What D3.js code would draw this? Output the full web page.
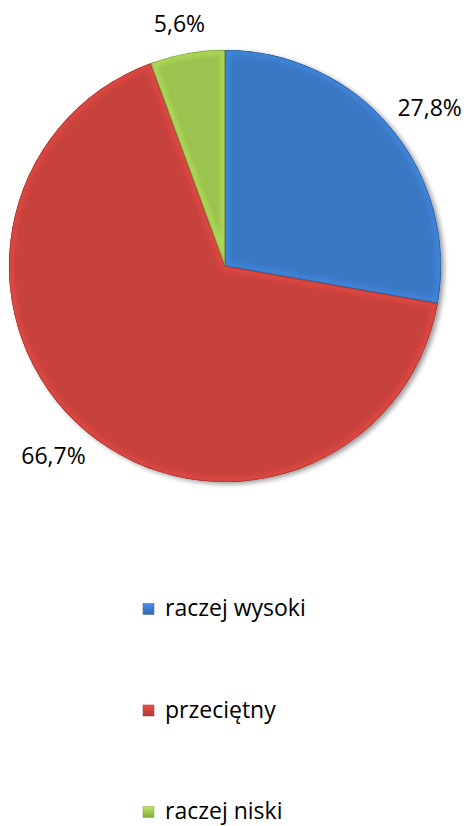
<!DOCTYPE html>
<html><head><meta charset="utf-8">
<script src="https://cdn.jsdelivr.net/npm/d3@7"></script>
<style>body{margin:0;background:#fff}svg{display:block}</style>
</head><body>
<svg id="c" width="474" height="826"></svg>
<script>
const categories = ["raczej wysoki", "przeciętny", "raczej niski"];
const values = [27.8, 66.7, 5.6];
const labels = ["27,8%", "66,7%", "5,6%"];
const colors = ["#3b78c4", "#c8433e", "#9cc24f"];

const svg = d3.select("#c");
const W = 474, cx = 225, cy = 266, R = 216;
const font = "'Open Sans', sans-serif";

const defs = svg.append("defs");
defs.append("filter").attr("id","soft").attr("x","-5%").attr("y","-5%").attr("width","110%").attr("height","110%")
  .append("feGaussianBlur").attr("stdDeviation",2.2);

const sh = defs.append("filter").attr("id","shadow").attr("x","-10%").attr("y","-10%").attr("width","125%").attr("height","125%");
sh.append("feGaussianBlur").attr("in","SourceAlpha").attr("stdDeviation",2.5).attr("result","b");
sh.append("feOffset").attr("in","b").attr("dx",2.5).attr("dy",2).attr("result","o");
sh.append("feComponentTransfer").attr("in","o").attr("result","o2").append("feFuncA").attr("type","linear").attr("slope",0.4);
const m = sh.append("feMerge"); m.append("feMergeNode").attr("in","o2"); m.append("feMergeNode").attr("in","SourceGraphic");

colors.forEach((c,i)=>{
  const lg = defs.append("linearGradient").attr("id","lg"+i).attr("x1",0).attr("y1",0).attr("x2",0).attr("y2",1);
  lg.append("stop").attr("offset","0%").attr("stop-color",d3.color(c).brighter(0.5));
  lg.append("stop").attr("offset","100%").attr("stop-color",d3.color(c).darker(0.4));
});

const pie = d3.pie().sort(null).value(d=>d);
const arcs = pie(values);
const arc = d3.arc().innerRadius(0).outerRadius(R);

arcs.forEach((d,i)=>{
  defs.append("clipPath").attr("id","cp"+i).append("path").attr("d",arc(d)).attr("transform",`translate(${cx},${cy})`);
});

const gshadow = svg.append("g");
// shadow base
gshadow.append("g").attr("filter","url(#shadow)").attr("transform",`translate(${cx},${cy})`)
  .selectAll("path").data(arcs).join("path").attr("d",arc).attr("fill",(d,i)=>colors[i]);

// bevel rims
arcs.forEach((d,i)=>{
  const g = svg.append("g").attr("clip-path",`url(#cp${i})`);
  const gi = g.append("g").attr("transform",`translate(${cx},${cy})`);
  gi.append("path").attr("d",arc(d)).attr("fill","none")
    .attr("stroke",d3.color(colors[i]).darker(0.6)).attr("stroke-width",3).attr("filter","url(#soft)").attr("opacity",0.7);
  gi.append("path").attr("d",arc(d)).attr("fill","none")
    .attr("stroke",d3.color(colors[i]).brighter(0.7)).attr("stroke-width",10).attr("filter","url(#soft)").attr("opacity",0.45);
  gi.append("path").attr("d",arc(d)).attr("fill","none")
    .attr("stroke",d3.color(colors[i]).darker(0.8)).attr("stroke-width",1.2);
});

// labels
const fs = 23, LR = 235, lh = 24;
const lg = svg.append("g");
arcs.forEach((d,i)=>{
  const a = (d.startAngle+d.endAngle)/2;
  const ux = Math.sin(a), uy = -Math.cos(a);
  const t = lg.append("text").text(labels[i]).attr("font-family",font).attr("font-size",fs).attr("fill","#000")
    .attr("text-anchor","middle").attr("dominant-baseline","central");
  const w = t.node().getComputedTextLength();
  let x = cx + LR*ux + ux*w/2, y = cy + LR*uy + uy*lh/2;
  x = Math.min(x, W - w/2 - 2);
  t.attr("x",x).attr("y",y);
});

// legend
const ly = d3.scalePoint().domain(categories).range([609, 812]);
const leg = svg.append("g");
categories.forEach((c,i)=>{
  const y = ly(c);
  leg.append("rect").attr("x",143).attr("y",y-5.5).attr("width",11).attr("height",11)
    .attr("fill",`url(#lg${i})`).attr("stroke",d3.color(colors[i]).darker(0.5)).attr("stroke-width",0.5);
  leg.append("text").attr("x",165).attr("y",y+7).text(c).attr("font-family",font).attr("font-size",fs).attr("fill","#000");
});
</script>
</body></html>
